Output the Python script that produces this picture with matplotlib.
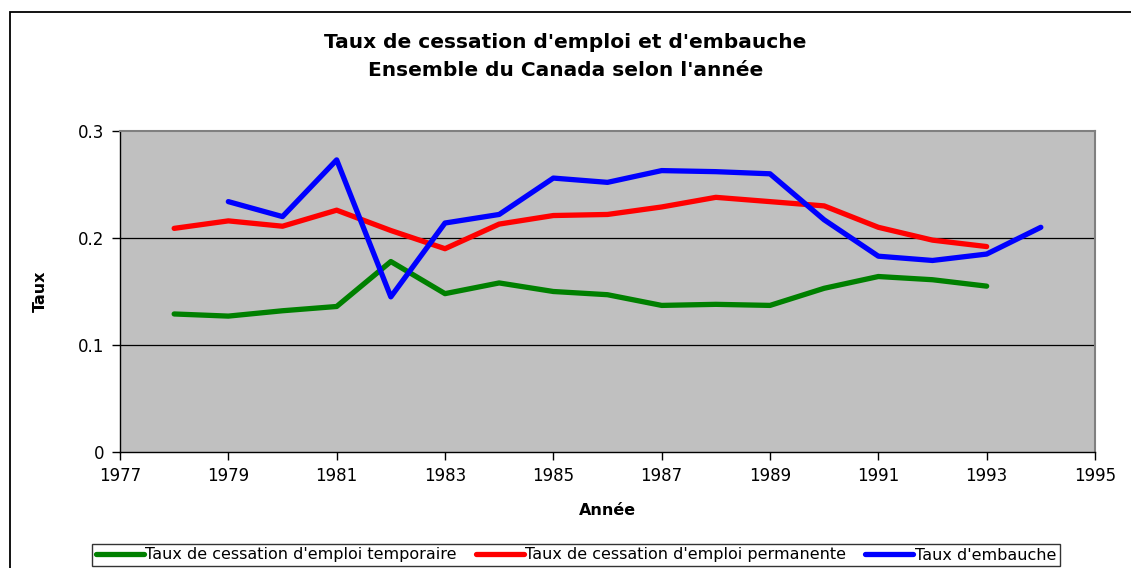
import matplotlib
matplotlib.use("Agg")
import matplotlib.pyplot as plt
from matplotlib.patches import Rectangle

plt.rcParams['font.family'] = ['DejaVu Sans']

years_temp = [1978, 1979, 1980, 1981, 1982, 1983, 1984, 1985, 1986, 1987, 1988, 1989, 1990, 1991, 1992, 1993]
temporaire = [0.129, 0.127, 0.132, 0.136, 0.178, 0.148, 0.158, 0.150, 0.147, 0.137, 0.138, 0.137, 0.153, 0.164, 0.161, 0.155]

years_perm = [1978, 1979, 1980, 1981, 1982, 1983, 1984, 1985, 1986, 1987, 1988, 1989, 1990, 1991, 1992, 1993]
permanente = [0.209, 0.216, 0.211, 0.226, 0.207, 0.190, 0.213, 0.221, 0.222, 0.229, 0.238, 0.234, 0.230, 0.210, 0.198, 0.192]

years_emb = [1979, 1980, 1981, 1982, 1983, 1984, 1985, 1986, 1987, 1988, 1989, 1990, 1991, 1992, 1993, 1994]
embauche = [0.234, 0.220, 0.273, 0.145, 0.214, 0.222, 0.256, 0.252, 0.263, 0.262, 0.260, 0.217, 0.183, 0.179, 0.185, 0.210]

xticks = list(range(1977, 1996, 2))
yticks = [0, 0.1, 0.2, 0.3]
ytick_labels = ['0', '0.1', '0.2', '0.3']

W, H = 1131, 568
fig = plt.figure(figsize=(W / 100, H / 100), dpi=100)

# cadre du graphique (bas et droite hors image)
fig.patches.append(Rectangle((10 / W, -0.1), 1.2, 1.1 - 12 / H,
                             transform=fig.transFigure, fill=False,
                             edgecolor='black', linewidth=1.3))

ax = fig.add_axes([120 / W, 1 - 452 / H, 975 / W, 321 / H])
ax.set_facecolor('#C0C0C0')

lw = 3.8
ax.plot(years_temp, temporaire, color='#008000', lw=lw, solid_capstyle='round',
        label="Taux de cessation d'emploi temporaire")
ax.plot(years_perm, permanente, color='#FF0000', lw=lw, solid_capstyle='round',
        label="Taux de cessation d'emploi permanente")
ax.plot(years_emb, embauche, color='#0000FF', lw=lw, solid_capstyle='round',
        label="Taux d'embauche")

ax.set_xlim(1977, 1995)
ax.set_ylim(0, 0.3)
ax.set_xticks(xticks)
ax.set_xticklabels([str(y) for y in xticks], fontsize=12)
ax.set_yticks(yticks)
ax.set_yticklabels(ytick_labels, fontsize=12)
ax.tick_params(direction='out', length=6, width=1, pad=5)

for y in [0.1, 0.2]:
    ax.axhline(y, color='black', lw=0.9, zorder=1)

for s in ['top', 'right']:
    ax.spines[s].set_color('#808080')
    ax.spines[s].set_linewidth(1.5)
for s in ['left', 'bottom']:
    ax.spines[s].set_color('black')
    ax.spines[s].set_linewidth(1)

ax.set_xlabel('Année', fontsize=11.5, fontweight='bold', labelpad=13)
ax.set_ylabel('Taux', fontsize=11.5, fontweight='bold', labelpad=22)

fig.text(0.5, 1 - 42 / H, "Taux de cessation d'emploi et d'embauche",
         ha='center', va='center', fontsize=14.5, fontweight='bold')
fig.text(0.5, 1 - 71 / H, "Ensemble du Canada selon l'année",
         ha='center', va='center', fontsize=14.5, fontweight='bold')

leg = fig.legend(loc='center', bbox_to_anchor=(576 / W, 1 - 555 / H), ncol=3,
                 fontsize=11.5, frameon=True, fancybox=False, handlelength=3.0,
                 handletextpad=0.1, columnspacing=1.2, borderpad=0.2,
                 borderaxespad=0)
leg.get_frame().set_edgecolor('black')
leg.get_frame().set_linewidth(1)

fig.savefig('out.png', dpi=100)
